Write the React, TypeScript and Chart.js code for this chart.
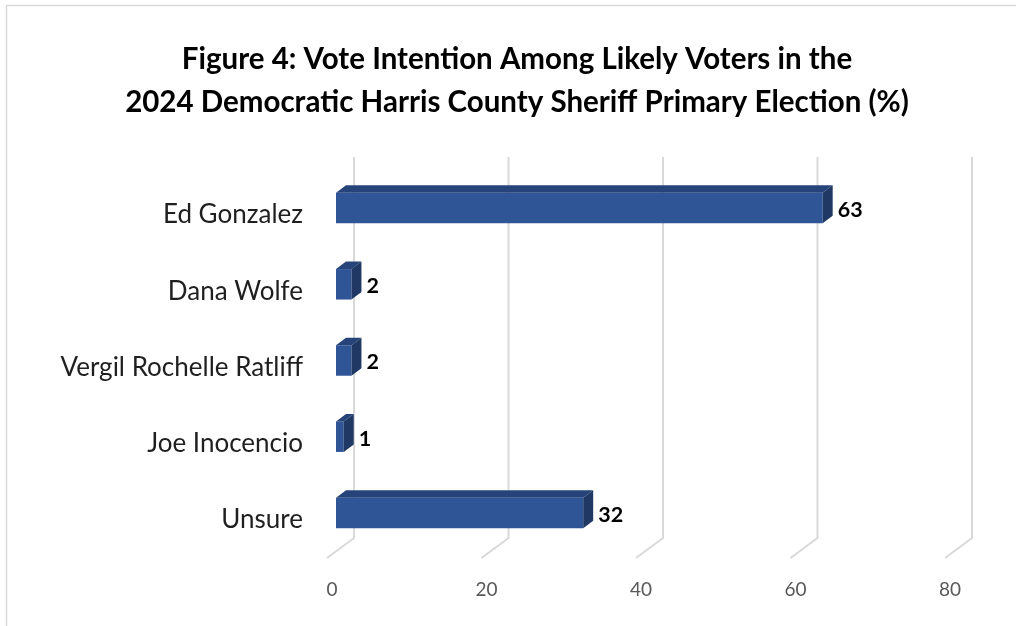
import React, { useEffect, useRef } from "react";
import { Chart, registerables } from "chart.js";

Chart.register(...registerables);

const categories = ["Ed Gonzalez", "Dana Wolfe", "Vergil Rochelle Ratliff", "Joe Inocencio", "Unsure"];
const values = [63, 2, 2, 1, 32];
const titleLines = [
  "Figure 4: Vote Intention Among Likely Voters in the",
  "2024 Democratic Harris County Sheriff Primary Election (%)",
];
const xMin = 0;
const xMax = 80;
const xStep = 20;

const FONT = "Lato, 'Open Sans', sans-serif";
const FRONT = "#2F5597";
const TOP = "#26447A";
const SIDE = "#1F3864";
const GRID = "#D9D9D9";
const DX = 10;
const DY = 7.5;
const BACK_DX = 18;
const BACK_DY = 13;
const FLOOR_DX = -9;
const FLOOR_DY = 7;

const threeD = {
  id: "threeD",
  afterLayout(chart: any) {
    // let long category labels extend past the axis box instead of being clipped
    if (chart.scales.y) chart.scales.y.left = 0;
  },
  beforeDraw(chart: any) {
    const { ctx } = chart;
    ctx.save();
    ctx.strokeStyle = GRID;
    ctx.lineWidth = 1.5;
    ctx.beginPath();
    ctx.moveTo(6.5, 626);
    ctx.lineTo(6.5, 5.5);
    ctx.lineTo(1016, 5.5);
    ctx.stroke();
    ctx.restore();
  },
  beforeDatasetsDraw(chart: any) {
    const { ctx, chartArea, scales } = chart;
    const xs = scales.x;
    ctx.save();
    ctx.strokeStyle = GRID;
    ctx.lineWidth = 2;
    for (let v = xMin; v <= xMax; v += xStep) {
      const px = xs.getPixelForValue(v);
      ctx.beginPath();
      ctx.moveTo(px + BACK_DX, chartArea.top - BACK_DY);
      ctx.lineTo(px + BACK_DX, chartArea.bottom - BACK_DY);
      ctx.lineTo(px + FLOOR_DX, chartArea.bottom + FLOOR_DY);
      ctx.stroke();
    }
    ctx.restore();
  },
  afterDatasetsDraw(chart: any) {
    const { ctx } = chart;
    const meta = chart.getDatasetMeta(0);
    ctx.save();
    meta.data.forEach((bar: any, i: number) => {
      const { x, y, base, height } = bar.getProps(["x", "y", "base", "height"], true);
      const top = y - height / 2;
      const bottom = y + height / 2;
      const left = Math.min(base, x);
      const right = Math.max(base, x);
      ctx.fillStyle = TOP;
      ctx.beginPath();
      ctx.moveTo(left, top);
      ctx.lineTo(left + DX, top - DY);
      ctx.lineTo(right + DX, top - DY);
      ctx.lineTo(right, top);
      ctx.closePath();
      ctx.fill();
      ctx.fillStyle = SIDE;
      ctx.beginPath();
      ctx.moveTo(right, top);
      ctx.lineTo(right + DX, top - DY);
      ctx.lineTo(right + DX, bottom - DY);
      ctx.lineTo(right, bottom);
      ctx.closePath();
      ctx.fill();
      ctx.fillStyle = "#000000";
      ctx.font = `bold 21.5px ${FONT}`;
      ctx.textAlign = "left";
      ctx.textBaseline = "middle";
      ctx.fillText(String(values[i]), right + DX + 5, y + 2);
    });
    ctx.restore();
  },
};

export default function App() {
  const ref = useRef<HTMLCanvasElement | null>(null);
  useEffect(() => {
    document.body.style.margin = "0";
    if (!ref.current) return;
    const chart = new Chart(ref.current, {
      type: "bar",
      data: {
        labels: categories,
        datasets: [
          {
            data: values,
            backgroundColor: FRONT,
            borderWidth: 0,
            barPercentage: 0.4,
            categoryPercentage: 1,
          },
        ],
      },
      options: {
        indexAxis: "y",
        animation: false,
        responsive: false,
        layout: { padding: { left: 80, right: 62, top: 0, bottom: 0 } },
        plugins: {
          legend: { display: false },
          tooltip: { enabled: false },
          title: {
            display: true,
            text: titleLines,
            color: "#000000",
            font: { family: FONT, size: 29.5, weight: "bold", lineHeight: 43.2 / 29.5 },
            padding: { top: 38, bottom: 45.6 },
          },
        },
        scales: {
          x: {
            type: "linear",
            min: xMin,
            max: xMax,
            ticks: {
              stepSize: xStep,
              color: "#595959",
              font: { family: FONT, size: 19 },
              padding: 19,
              labelOffset: -4,
            },
            grid: { display: false },
            border: { display: false },
            afterFit(scale: any) {
              scale.height = 75;
            },
          },
          y: {
            type: "category",
            ticks: {
              color: "#1F1F1F",
              font: { family: FONT, size: 26 },
              padding: 25,
              labelOffset: 7,
            },
            grid: { display: false },
            border: { display: false },
            afterFit(scale: any) {
              scale.width = 256;
            },
          },
        },
      },
      plugins: [threeD],
    } as any);
    return () => chart.destroy();
  }, []);
  return (
    <div style={{ position: "relative", width: 1016, height: 626 }}>
      <canvas ref={ref} width={1016} height={626} />
    </div>
  );
}
